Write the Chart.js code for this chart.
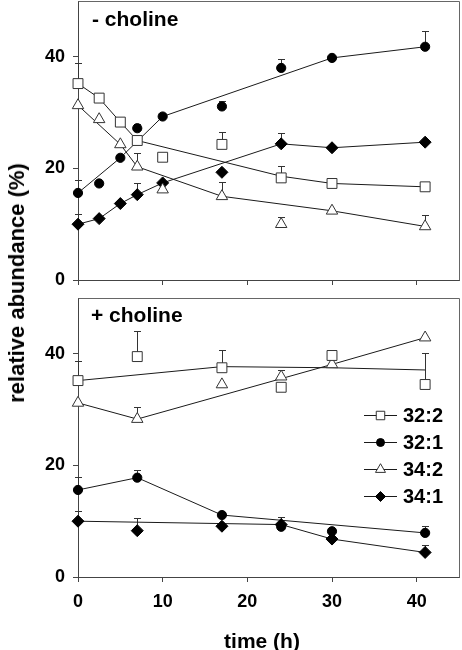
<!DOCTYPE html>
<html>
<head>
<meta charset="utf-8">
<script src="https://cdn.jsdelivr.net/npm/chart.js@4.4.1/dist/chart.umd.min.js"></script>
<style>
html,body{margin:0;padding:0;background:#fff;width:462px;height:650px;overflow:hidden;font-family:"Liberation Sans",Arial,sans-serif;}
#wrap{position:relative;width:462px;height:650px;}
canvas{position:absolute;left:0;}
#c1{top:0;}
#c2{top:290px;}
.lbl{position:absolute;font-weight:bold;font-size:21px;color:#000;line-height:21px;white-space:nowrap;}
#ytitle{position:absolute;left:17px;top:283px;transform:translate(-50%,-50%) rotate(-90deg);font-weight:bold;font-size:22px;line-height:22px;white-space:nowrap;color:#000;}
#xtitle{position:absolute;left:262px;top:640px;transform:translate(-50%,-50%);font-weight:bold;font-size:21px;line-height:21px;white-space:nowrap;color:#000;}
</style>
</head>
<body>
<div id="wrap">
  <canvas id="c1" width="462" height="290"></canvas>
  <canvas id="c2" width="462" height="360"></canvas>
  <div class="lbl" id="t1" style="left:92px;top:8px;">- choline</div>
  <div class="lbl" id="t2" style="left:91px;top:304px;">+ choline</div>
  <div id="ytitle">relative abundance (%)</div>
  <div id="xtitle">time (h)</div>
</div>
<script>
// ---------- data ----------
const xTickValues = [0, 10, 20, 30, 40];
const yTickValues = [0, 20, 40];
const seriesLabels = ['32:2', '32:1', '34:2', '34:1'];

// - choline
const timeMinus   = [0, 2.5, 5, 7, 10, 17, 24, 30, 41];
const minus32_2   = [35.2, 32.6, 28.3, 25.0, 22.0, 24.3, 18.3, 17.3, 16.7];
const minus32_1   = [15.6, 17.3, 21.9, 27.2, 29.3, 31.1, 38.0, 39.8, 41.8];
const minus34_2   = [31.3, 28.8, 24.3, 20.3, 16.2, 15.0, 10.0, 12.4, 9.6];
const minus34_1   = [10.0, 11.0, 13.7, 15.3, 17.4, 19.3, 24.4, 23.7, 24.7];
const minusErr32_2 = [3.6, null, null, null, null, 2.2, 2.1, null, null];
const minusErr32_1 = [2.4, null, null, 0.7, null, 0.9, 1.6, null, 2.8];
const minusErr34_2 = [null, null, null, 2.4, null, 2.6, 1.3, null, 2.0];
const minusErr34_1 = [1.9, null, null, 2.1, null, null, 1.9, null, null];
// trend lines (- choline)
const minusLineT32_2 = [0, 2.5, 5, 7, 24, 30, 41];
const minusLineV32_2 = [35.2, 32.6, 28.3, 25.0, 18.6, 17.3, 16.7];
const minusLineT32_1 = [0, 5, 10, 30, 41];
const minusLineV32_1 = [15.6, 21.9, 29.3, 39.8, 41.8];
const minusLineT34_2 = [0, 5, 7, 17, 30, 41];
const minusLineV34_2 = [31.3, 24.3, 20.3, 15.0, 12.4, 9.6];
const minusLineT34_1 = [0, 2.5, 5, 7, 10, 24, 30, 41];
const minusLineV34_1 = [10.0, 11.0, 13.7, 15.3, 17.4, 24.4, 23.7, 24.7];

// + choline
const timePlus    = [0, 7, 17, 24, 30, 41];
const plus32_2    = [35.2, 39.5, 37.5, 34.0, 39.7, 34.5];
const plus32_1    = [15.6, 17.8, 11.1, 9.0, 8.2, 7.9];
const plus34_2    = [31.2, 28.3, 34.5, 35.9, 38.1, 42.9];
const plus34_1    = [10.0, 8.3, 9.1, 9.4, 6.8, 4.4];
const plusErr32_2 = [3.5, 4.6, 3.1, null, null, 5.6];
const plusErr32_1 = [2.4, 1.4, 0.6, null, null, 1.2];
const plusErr34_2 = [null, 2.2, null, 1.2, null, null];
const plusErr34_1 = [1.8, 2.2, null, 1.3, null, 1.3];
// trend lines (+ choline)
const plusLineT32_2 = [0, 17, 30, 41];
const plusLineV32_2 = [35.2, 37.7, 37.5, 37.1];
const plusLineT32_1 = [0, 7, 17, 41];
const plusLineV32_1 = [15.6, 17.8, 11.1, 7.9];
const plusLineT34_2 = [0, 7, 30, 41];
const plusLineV34_2 = [31.2, 28.3, 38.1, 42.9];
const plusLineT34_1 = [0, 24, 30, 41];
const plusLineV34_1 = [10.0, 9.4, 6.8, 4.4];

// ---------- styles ----------
const FONT = '"Liberation Sans", Arial, sans-serif';
const LINE_COLOR = '#1a1a1a';
const styles = {
  '32:2': {pointStyle: 'rect',     fill: '#ffffff', border: '#333', radius: 7,   legendRadius: 6},
  '32:1': {pointStyle: 'circle',   fill: '#000000', border: '#000', radius: 4.6, legendRadius: 4},
  '34:2': {pointStyle: 'triangle', fill: '#ffffff', border: '#333', radius: 6.6, legendRadius: 5.8},
  '34:1': {pointStyle: 'rectRot',  fill: '#000000', border: '#000', radius: 6,   legendRadius: 5}
};

function pts(t, v) { return t.map((x, i) => ({x: x, y: v[i]})); }

function markerDS(label, t, v, err, withLabel) {
  const s = styles[label];
  return {
    label: withLabel ? label : '',
    data: pts(t, v),
    showLine: false,
    pointStyle: s.pointStyle,
    pointRadius: s.radius,
    pointHoverRadius: s.radius,
    pointBackgroundColor: s.fill,
    pointBorderColor: s.border,
    pointBorderWidth: 1,
    legendRadius: s.legendRadius,
    errorBars: err,
    clip: false,
    order: 0
  };
}
function lineDS(t, v) {
  return {
    label: '',
    data: pts(t, v),
    showLine: true,
    borderColor: LINE_COLOR,
    borderWidth: 1,
    pointRadius: 0,
    pointHoverRadius: 0,
    tension: 0,
    fill: false,
    clip: false,
    order: 1
  };
}

// ---------- plugins ----------
const errorBarPlugin = {
  id: 'errorBars',
  beforeDatasetsDraw(chart) {
    const ctx = chart.ctx, xs = chart.scales.x, ys = chart.scales.y;
    ctx.save();
    ctx.strokeStyle = '#333';
    ctx.lineWidth = 1;
    chart.data.datasets.forEach(ds => {
      if (!ds.errorBars) return;
      ds.data.forEach((p, i) => {
        const e = ds.errorBars[i];
        if (e == null) return;
        const x = Math.round(xs.getPixelForValue(p.x)) + 0.5;
        const y0 = ys.getPixelForValue(p.y);
        const y1 = Math.round(ys.getPixelForValue(p.y + e)) + 0.5;
        ctx.beginPath();
        ctx.moveTo(x, y0);
        ctx.lineTo(x, y1);
        ctx.moveTo(x - 3.5, y1);
        ctx.lineTo(x + 3.5, y1);
        ctx.stroke();
      });
    });
    ctx.restore();
  }
};

const framePlugin = {
  id: 'frame',
  afterDraw(chart) {
    const a = chart.chartArea, ctx = chart.ctx;
    ctx.save();
    ctx.strokeStyle = '#666';
    ctx.lineWidth = 1;
    ctx.beginPath();
    ctx.moveTo(Math.round(a.left) + 0.5, Math.round(a.top) + 0.5);
    ctx.lineTo(Math.round(a.right) + 0.5, Math.round(a.top) + 0.5);
    ctx.lineTo(Math.round(a.right) + 0.5, Math.round(a.bottom) + 0.5);
    ctx.stroke();
    ctx.restore();
  }
};

const insideLegendPlugin = {
  id: 'insideLegend',
  afterDraw(chart, args, opts) {
    if (!opts || !opts.show) return;
    const ctx = chart.ctx, a = chart.chartArea;
    ctx.save();
    const items = chart.data.datasets.filter(d => d.label);
    items.forEach((d, i) => {
      const y = Math.round(a.top + opts.top + i * opts.gap);
      const x0 = a.left + opts.left;
      ctx.strokeStyle = LINE_COLOR;
      ctx.lineWidth = 1;
      ctx.beginPath();
      ctx.moveTo(x0, y + 0.5);
      ctx.lineTo(x0 + opts.lineLen, y + 0.5);
      ctx.stroke();
      ctx.fillStyle = d.pointBackgroundColor;
      ctx.strokeStyle = d.pointBorderColor;
      Chart.helpers.drawPoint(ctx, {pointStyle: d.pointStyle, radius: d.legendRadius, rotation: 0, borderWidth: 1}, x0 + opts.lineLen / 2, y + 0.5);
      ctx.fillStyle = '#000';
      ctx.font = 'bold 20px ' + FONT;
      ctx.textAlign = 'left';
      ctx.textBaseline = 'middle';
      ctx.fillText(d.label, x0 + opts.lineLen + 6, y + 1);
    });
    ctx.restore();
  }
};

function makeOptions(showXLabels, xAxisHeight, padTop, legend) {
  return {
    responsive: false,
    animation: false,
    devicePixelRatio: 1,
    layout: {autoPadding: false, padding: {top: padTop, right: 3, left: 0, bottom: 0}},
    plugins: {
      legend: {display: false},
      tooltip: {enabled: false},
      insideLegend: legend
    },
    scales: {
      x: {
        type: 'linear',
        min: 0,
        max: 45,
        afterBuildTicks: s => { s.ticks = xTickValues.map(v => ({value: v})); },
        afterFit: s => { s.height = xAxisHeight; s.paddingLeft = 0; s.paddingRight = 0; s.paddingTop = 0; s.paddingBottom = 0; },
        grid: {drawOnChartArea: false, drawTicks: true, tickLength: 5, color: '#444', lineWidth: 1},
        border: {display: true, color: '#444', width: 1},
        ticks: {display: showXLabels, color: '#000', padding: 9, maxRotation: 0,
                font: {family: FONT, size: 18, weight: 'bold'}}
      },
      y: {
        type: 'linear',
        min: 0,
        max: 50,
        afterBuildTicks: s => { s.ticks = yTickValues.map(v => ({value: v})); },
        afterFit: s => { s.width = 78; s.paddingLeft = 0; s.paddingRight = 0; s.paddingTop = 0; s.paddingBottom = 0; },
        grid: {drawOnChartArea: false, drawTicks: true, tickLength: 5, color: '#444', lineWidth: 1},
        border: {display: true, color: '#444', width: 1},
        ticks: {color: '#000', padding: 8, font: {family: FONT, size: 18, weight: 'bold'}}
      }
    }
  };
}

new Chart(document.getElementById('c1'), {
  type: 'scatter',
  data: {
    datasets: [
      markerDS('32:2', timeMinus, minus32_2, minusErr32_2, false),
      markerDS('32:1', timeMinus, minus32_1, minusErr32_1, false),
      markerDS('34:2', timeMinus, minus34_2, minusErr34_2, false),
      markerDS('34:1', timeMinus, minus34_1, minusErr34_1, false),
      lineDS(minusLineT32_2, minusLineV32_2),
      lineDS(minusLineT32_1, minusLineV32_1),
      lineDS(minusLineT34_2, minusLineV34_2),
      lineDS(minusLineT34_1, minusLineV34_1)
    ]
  },
  options: makeOptions(false, 10, 1, {show: false}),
  plugins: [errorBarPlugin, framePlugin, insideLegendPlugin]
});

new Chart(document.getElementById('c2'), {
  type: 'scatter',
  data: {
    datasets: [
      markerDS('32:2', timePlus, plus32_2, plusErr32_2, true),
      markerDS('32:1', timePlus, plus32_1, plusErr32_1, true),
      markerDS('34:2', timePlus, plus34_2, plusErr34_2, true),
      markerDS('34:1', timePlus, plus34_1, plusErr34_1, true),
      lineDS(plusLineT32_2, plusLineV32_2),
      lineDS(plusLineT32_1, plusLineV32_1),
      lineDS(plusLineT34_2, plusLineV34_2),
      lineDS(plusLineT34_1, plusLineV34_1)
    ]
  },
  options: makeOptions(true, 73, 8, {show: true, left: 286, top: 117, gap: 27, lineLen: 33}),
  plugins: [errorBarPlugin, framePlugin, insideLegendPlugin]
});
</script>
</body>
</html>
